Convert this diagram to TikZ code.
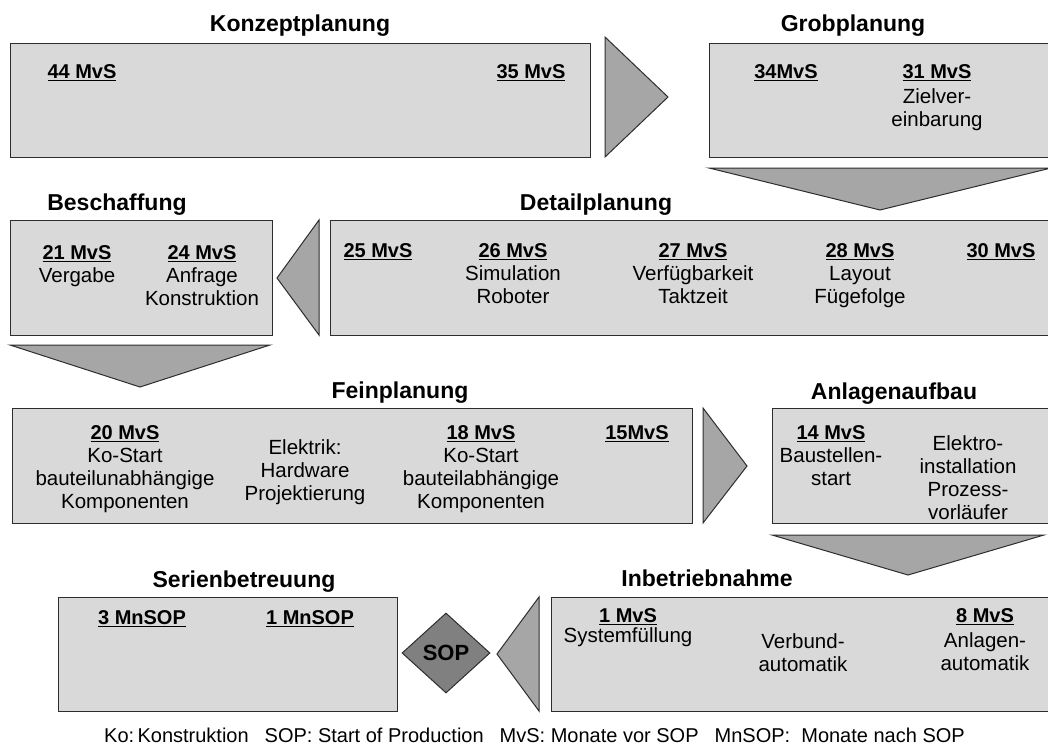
\documentclass[tikz,border=0pt]{standalone}
\usepackage{fontspec}
\setmainfont{Liberation Sans}
\usetikzlibrary{shapes.geometric}
\definecolor{boxfill}{RGB}{217,217,217}
\definecolor{arrowfill}{RGB}{166,166,166}
\definecolor{sopfill}{RGB}{128,128,128}
\definecolor{edge}{RGB}{45,45,45}
% bold milestone label with a thick underline
\newcommand\mlab[1]{\setbox0\hbox{\fontsize{20}{22}\selectfont\bfseries #1}\leavevmode\rlap{\rule[-3.2pt]{\wd0}{1.8pt}}\box0}
\begin{document}
\begin{tikzpicture}[x=1pt,y=-1pt,
  phase/.style={draw=edge, line width=1pt, fill=boxfill, inner sep=0},
  wedge/.style={draw=edge, line width=1pt, fill=arrowfill, line join=miter},
  title/.style={font=\fontsize{23}{26}\selectfont\bfseries, inner sep=0, anchor=base},
  txt/.style={font=\fontsize{20.5}{23}\selectfont, align=center, inner sep=0, anchor=north},
]
\useasboundingbox (0,0) rectangle (1048,747);
\begin{scope}
\clip (0,0) rectangle (1048,747);

% phase boxes
\node[phase, minimum width=580pt, minimum height=114pt] (konzept) at (300,100) {};
\node[phase, minimum width=351pt, minimum height=114pt] (grob) at (884.5,100) {};
\node[phase, minimum width=262pt, minimum height=115pt] (besch) at (141,277.5) {};
\node[phase, minimum width=730pt, minimum height=115pt] (detail) at (695,277.5) {};
\node[phase, minimum width=680pt, minimum height=115pt] (fein) at (352,465.5) {};
\node[phase, minimum width=288pt, minimum height=115pt] (aufbau) at (916,465.5) {};
\node[phase, minimum width=339pt, minimum height=114pt] (serie) at (227.5,654) {};
\node[phase, minimum width=509pt, minimum height=114pt] (ibn) at (805.5,654) {};

% flow wedges between the phases
\draw[wedge] (605,37) -- (668,97) -- (605,157) -- cycle;
\draw[wedge] (709,168) -- (1051,168) -- (880,210) -- cycle;
\draw[wedge] (319,220) -- (319,335) -- (277,278) -- cycle;
\draw[wedge] (10,345) -- (270,345) -- (140,387) -- cycle;
\draw[wedge] (703,408) -- (747,466) -- (703,523) -- cycle;
\draw[wedge] (772,535) -- (1044,535) -- (908,575) -- cycle;
\draw[wedge] (539,597) -- (539,711) -- (497,654) -- cycle;

% start of production
\node[shape=diamond, draw=edge, line width=1pt, fill=sopfill, minimum width=88pt,
      minimum height=80pt, inner sep=0, font=\fontsize{22}{24}\selectfont\bfseries] (sop) at (446,653) {SOP};

% phase titles
\node[title] (tkonzept) at (300,31) {Konzeptplanung};
\node[title] (tgrob) at (853,31) {Grobplanung};
\node[title] (tbesch) at (117,210) {Beschaffung};
\node[title] (tdetail) at (596,210) {Detailplanung};
\node[title] (tfein) at (400,398) {Feinplanung};
\node[title] (taufbau) at (894,399) {Anlagenaufbau};
\node[title] (tserie) at (244,587) {Serienbetreuung};
\node[title] (tibn) at (707,586) {Inbetriebnahme};

% milestones: Konzeptplanung, Grobplanung
\node[txt] (k44) at (82,64) {\mlab{44 MvS}};
\node[txt] (k35) at (531,64) {\mlab{35 MvS}};
\node[txt] (g34) at (786,64) {\mlab{34MvS}};
\node[txt] (g31) at (937,64) {\mlab{31 MvS}\\[2pt] Zielver-\\ einbarung};

% Beschaffung, Detailplanung
\node[txt] (b21) at (77,245) {\mlab{21 MvS}\\ Vergabe};
\node[txt] (b24) at (202,245) {\mlab{24 MvS}\\ Anfrage\\ Konstruktion};
\node[txt] (d25) at (378,243) {\mlab{25 MvS}};
\node[txt] (d26) at (513,243) {\mlab{26 MvS}\\ Simulation\\ Roboter};
\node[txt] (d27) at (693,243) {\mlab{27 MvS}\\ Verfügbarkeit\\ Taktzeit};
\node[txt] (d28) at (860,243) {\mlab{28 MvS}\\ Layout\\ Fügefolge};
\node[txt] (d30) at (1001,243) {\mlab{30 MvS}};

% Feinplanung, Anlagenaufbau
\node[txt] (f20) at (125,425) {\mlab{20 MvS}\\ Ko-Start\\ bauteilunabhängige\\ Komponenten};
\node[txt] (fel) at (305,439) {Elektrik:\\ Hardware\\ Projektierung};
\node[txt] (f18) at (481,425) {\mlab{18 MvS}\\ Ko-Start\\ bauteilabhängige\\ Komponenten};
\node[txt] (f15) at (637,425) {\mlab{15MvS}};
\node[txt] (a14) at (831,425) {\mlab{14 MvS}\\ Baustellen-\\ start};
\node[txt] (ael) at (968,435) {Elektro-\\ installation\\ Prozess-\\ vorläufer};

% Serienbetreuung, Inbetriebnahme
\node[txt] (s3) at (142,610) {\mlab{3 MnSOP}};
\node[txt] (s1) at (310,610) {\mlab{1 MnSOP}};
\node[txt] (i1) at (628,608) {\mlab{1 MvS}\\[-3pt] Systemfüllung};
\node[txt] (iv) at (803,633) {Verbund-\\ automatik};
\node[txt] (i8) at (985,608) {\mlab{8 MvS}\\[2pt] Anlagen-\\ automatik};

% abbreviations
\node[font=\fontsize{20}{23}\selectfont, inner sep=0, anchor=base west] (legend) at (104,742)
  {Ko:\,Konstruktion\hspace{16pt}SOP: Start of Production\hspace{16pt}MvS: Monate vor SOP\hspace{16pt}MnSOP:\ \ Monate nach SOP};
\end{scope}
\end{tikzpicture}
\end{document}
